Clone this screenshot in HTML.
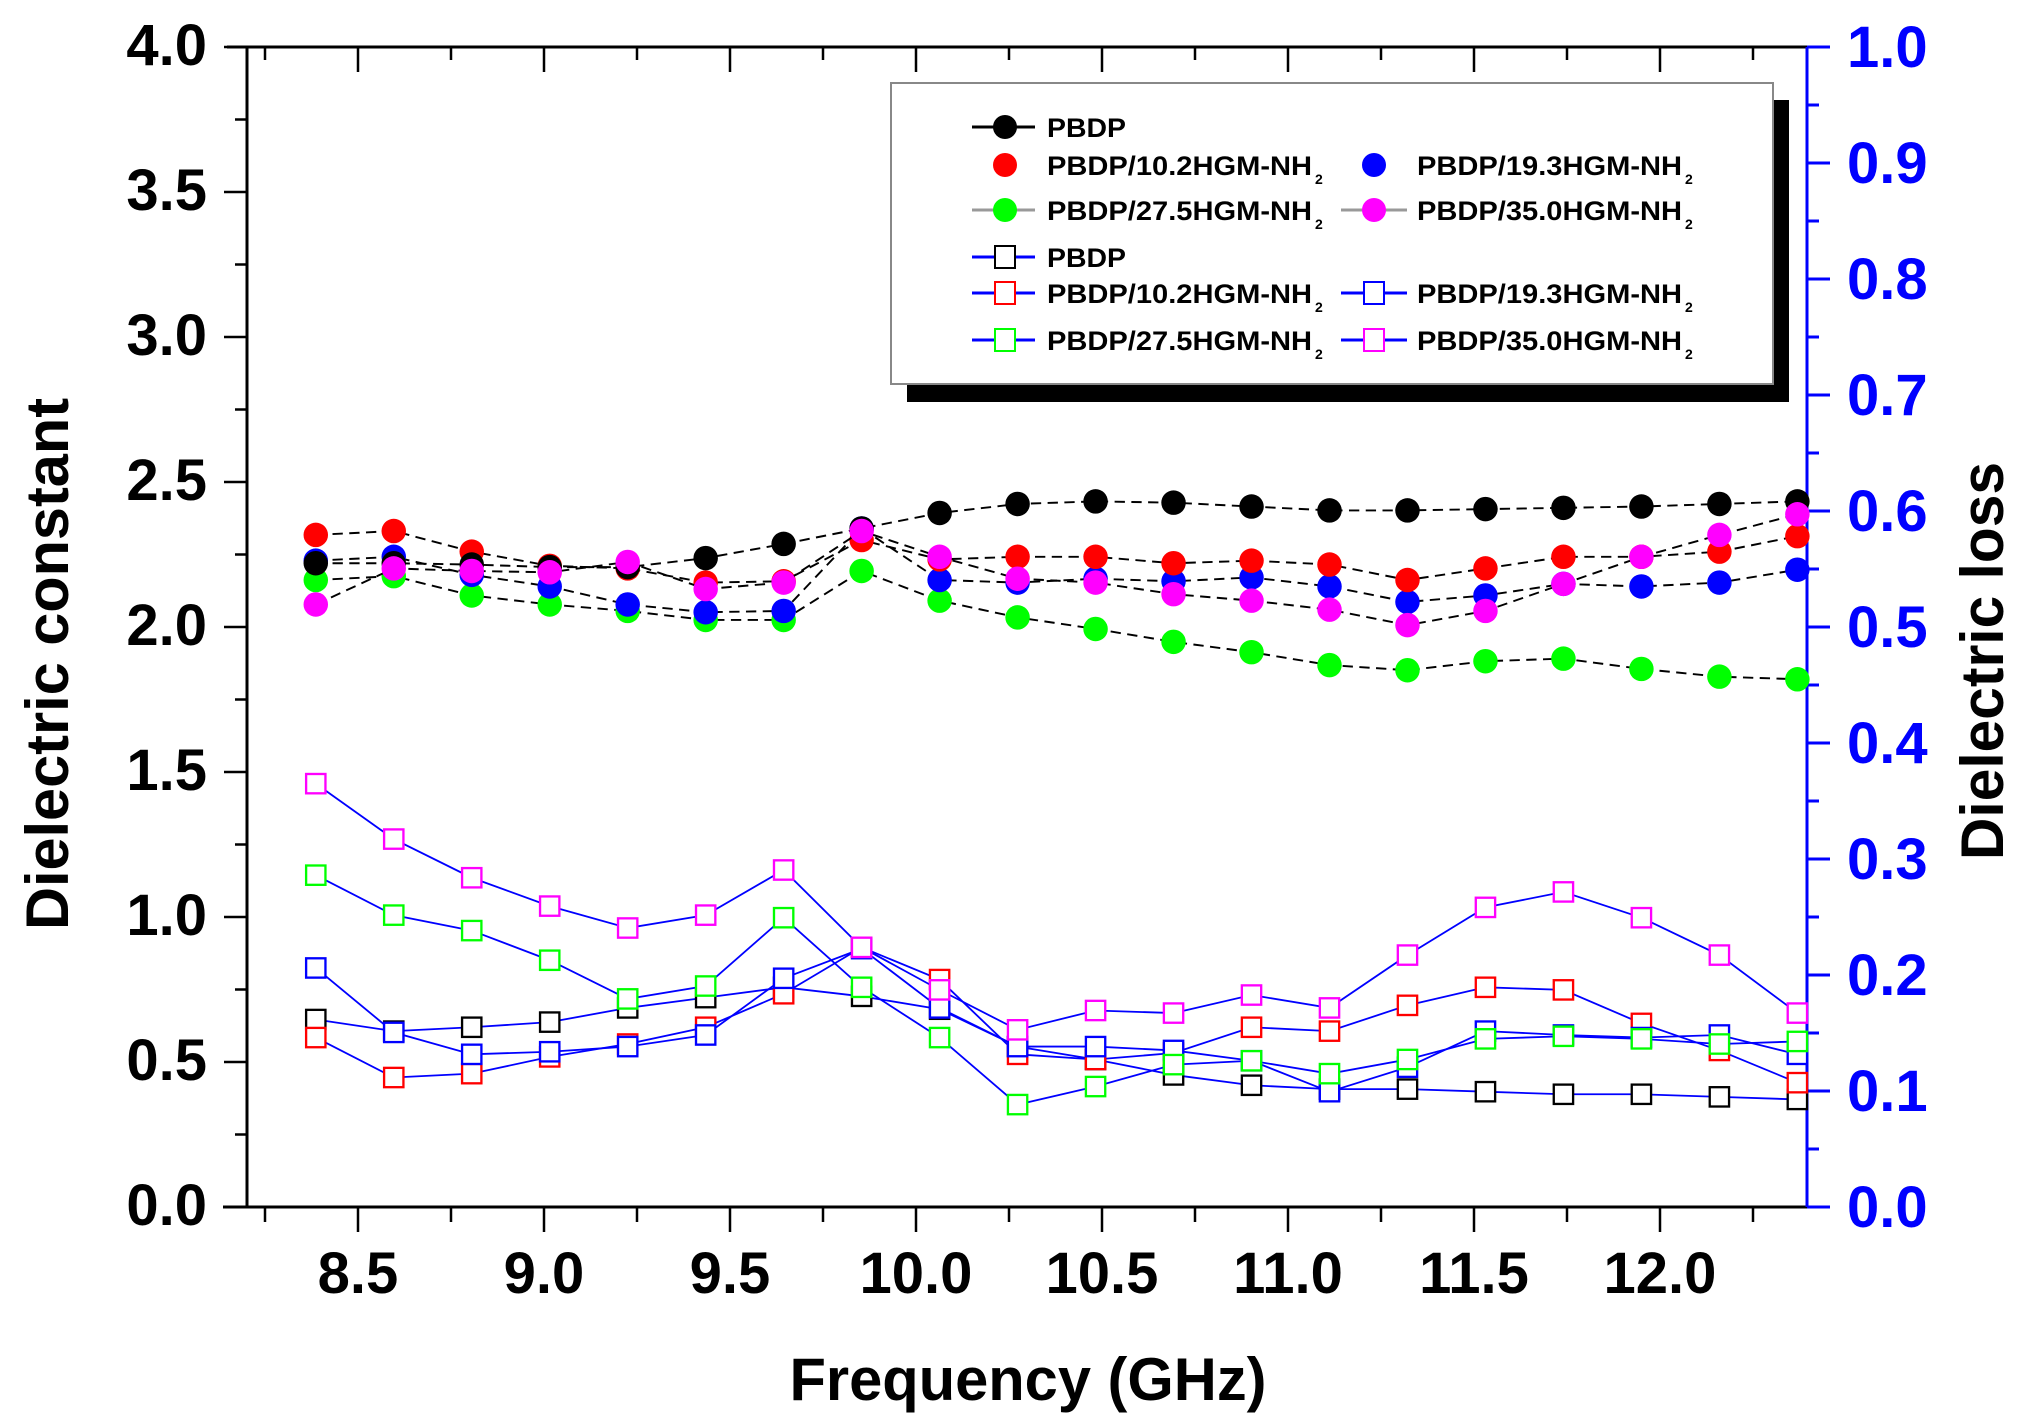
<!DOCTYPE html>
<html><head><meta charset="utf-8"><style>
html,body{margin:0;padding:0;background:#fff;}
svg{display:block;}
text{font-family:"Liberation Sans",Arial,sans-serif;font-weight:bold;}
</style></head><body>
<svg width="2021" height="1427" viewBox="0 0 2021 1427" xmlns="http://www.w3.org/2000/svg">
<defs>
<marker id="cK" markerUnits="userSpaceOnUse" markerWidth="24" markerHeight="24" refX="12" refY="12"><circle cx="12" cy="12" r="9.5" fill="#000"/></marker>
<marker id="cR" markerUnits="userSpaceOnUse" markerWidth="24" markerHeight="24" refX="12" refY="12"><circle cx="12" cy="12" r="9.5" fill="#f00"/></marker>
<marker id="cB" markerUnits="userSpaceOnUse" markerWidth="24" markerHeight="24" refX="12" refY="12"><circle cx="12" cy="12" r="9.5" fill="#00f"/></marker>
<marker id="cG" markerUnits="userSpaceOnUse" markerWidth="24" markerHeight="24" refX="12" refY="12"><circle cx="12" cy="12" r="9.5" fill="#0f0"/></marker>
<marker id="cM" markerUnits="userSpaceOnUse" markerWidth="24" markerHeight="24" refX="12" refY="12"><circle cx="12" cy="12" r="9.5" fill="#f0f"/></marker>
<marker id="sK" markerUnits="userSpaceOnUse" markerWidth="22" markerHeight="22" refX="11" refY="11"><rect x="3.5" y="3.5" width="15" height="15" fill="#fff" stroke="#000" stroke-width="1.8"/></marker>
<marker id="sR" markerUnits="userSpaceOnUse" markerWidth="22" markerHeight="22" refX="11" refY="11"><rect x="3.5" y="3.5" width="15" height="15" fill="#fff" stroke="#f00" stroke-width="1.8"/></marker>
<marker id="sB" markerUnits="userSpaceOnUse" markerWidth="22" markerHeight="22" refX="11" refY="11"><rect x="3.5" y="3.5" width="15" height="15" fill="#fff" stroke="#00f" stroke-width="1.8"/></marker>
<marker id="sG" markerUnits="userSpaceOnUse" markerWidth="22" markerHeight="22" refX="11" refY="11"><rect x="3.5" y="3.5" width="15" height="15" fill="#fff" stroke="#0f0" stroke-width="1.8"/></marker>
<marker id="sM" markerUnits="userSpaceOnUse" markerWidth="22" markerHeight="22" refX="11" refY="11"><rect x="3.5" y="3.5" width="15" height="15" fill="#fff" stroke="#f0f" stroke-width="1.8"/></marker>
</defs>

<!-- axes -->
<g stroke="#000" stroke-width="3" fill="none">
<line x1="223" y1="1207" x2="1807" y2="1207"/>
<line x1="247" y1="47" x2="247" y2="1207"/>
<line x1="227" y1="47" x2="1807" y2="47"/>
</g>
<g stroke="#000" stroke-width="2.5">
<!-- left major ticks -->
<line x1="224" y1="1207" x2="247" y2="1207"/><line x1="224" y1="1062" x2="247" y2="1062"/><line x1="224" y1="917" x2="247" y2="917"/><line x1="224" y1="772" x2="247" y2="772"/><line x1="224" y1="627" x2="247" y2="627"/><line x1="224" y1="482" x2="247" y2="482"/><line x1="224" y1="337" x2="247" y2="337"/><line x1="224" y1="192" x2="247" y2="192"/><line x1="224" y1="47" x2="247" y2="47"/>
<!-- left minor -->
<line x1="235" y1="1134.5" x2="247" y2="1134.5"/><line x1="235" y1="989.5" x2="247" y2="989.5"/><line x1="235" y1="844.5" x2="247" y2="844.5"/><line x1="235" y1="699.5" x2="247" y2="699.5"/><line x1="235" y1="554.5" x2="247" y2="554.5"/><line x1="235" y1="409.5" x2="247" y2="409.5"/><line x1="235" y1="264.5" x2="247" y2="264.5"/><line x1="235" y1="119.5" x2="247" y2="119.5"/>
<!-- bottom major -->
<line x1="358" y1="1207" x2="358" y2="1232"/><line x1="544" y1="1207" x2="544" y2="1232"/><line x1="730" y1="1207" x2="730" y2="1232"/><line x1="916" y1="1207" x2="916" y2="1232"/><line x1="1102" y1="1207" x2="1102" y2="1232"/><line x1="1288" y1="1207" x2="1288" y2="1232"/><line x1="1474" y1="1207" x2="1474" y2="1232"/><line x1="1660" y1="1207" x2="1660" y2="1232"/>
<!-- bottom minor -->
<line x1="265" y1="1207" x2="265" y2="1222"/><line x1="451" y1="1207" x2="451" y2="1222"/><line x1="637" y1="1207" x2="637" y2="1222"/><line x1="823" y1="1207" x2="823" y2="1222"/><line x1="1009" y1="1207" x2="1009" y2="1222"/><line x1="1195" y1="1207" x2="1195" y2="1222"/><line x1="1381" y1="1207" x2="1381" y2="1222"/><line x1="1567" y1="1207" x2="1567" y2="1222"/><line x1="1753" y1="1207" x2="1753" y2="1222"/>
<!-- top major (inward) -->
<line x1="358" y1="47" x2="358" y2="72"/><line x1="544" y1="47" x2="544" y2="72"/><line x1="730" y1="47" x2="730" y2="72"/><line x1="916" y1="47" x2="916" y2="72"/><line x1="1102" y1="47" x2="1102" y2="72"/><line x1="1288" y1="47" x2="1288" y2="72"/><line x1="1474" y1="47" x2="1474" y2="72"/><line x1="1660" y1="47" x2="1660" y2="72"/>
<line x1="265" y1="47" x2="265" y2="60"/><line x1="451" y1="47" x2="451" y2="60"/><line x1="637" y1="47" x2="637" y2="60"/><line x1="823" y1="47" x2="823" y2="60"/><line x1="1009" y1="47" x2="1009" y2="60"/><line x1="1195" y1="47" x2="1195" y2="60"/><line x1="1381" y1="47" x2="1381" y2="60"/><line x1="1567" y1="47" x2="1567" y2="60"/><line x1="1753" y1="47" x2="1753" y2="60"/>
</g>
<!-- right axis blue -->
<g stroke="#00f" stroke-width="3">
<line x1="1807" y1="47" x2="1807" y2="1207"/>
<line x1="1807" y1="47" x2="1830" y2="47"/><line x1="1807" y1="163" x2="1830" y2="163"/><line x1="1807" y1="279" x2="1830" y2="279"/><line x1="1807" y1="395" x2="1830" y2="395"/><line x1="1807" y1="511" x2="1830" y2="511"/><line x1="1807" y1="627" x2="1830" y2="627"/><line x1="1807" y1="743" x2="1830" y2="743"/><line x1="1807" y1="859" x2="1830" y2="859"/><line x1="1807" y1="975" x2="1830" y2="975"/><line x1="1807" y1="1091" x2="1830" y2="1091"/><line x1="1807" y1="1207" x2="1830" y2="1207"/>
<line x1="1807" y1="105" x2="1819" y2="105"/><line x1="1807" y1="221" x2="1819" y2="221"/><line x1="1807" y1="337" x2="1819" y2="337"/><line x1="1807" y1="453" x2="1819" y2="453"/><line x1="1807" y1="569" x2="1819" y2="569"/><line x1="1807" y1="685" x2="1819" y2="685"/><line x1="1807" y1="801" x2="1819" y2="801"/><line x1="1807" y1="917" x2="1819" y2="917"/><line x1="1807" y1="1033" x2="1819" y2="1033"/><line x1="1807" y1="1149" x2="1819" y2="1149"/>
</g>

<!-- tick labels -->
<g font-size="58" text-anchor="end" fill="#000">
<text x="207" y="1225">0.0</text><text x="207" y="1080">0.5</text><text x="207" y="935">1.0</text><text x="207" y="790">1.5</text><text x="207" y="645">2.0</text><text x="207" y="500">2.5</text><text x="207" y="355">3.0</text><text x="207" y="210">3.5</text><text x="207" y="65">4.0</text>
</g>
<g font-size="58" text-anchor="middle" fill="#000">
<text x="358" y="1293">8.5</text><text x="544" y="1293">9.0</text><text x="730" y="1293">9.5</text><text x="916" y="1293">10.0</text><text x="1102" y="1293">10.5</text><text x="1288" y="1293">11.0</text><text x="1474" y="1293">11.5</text><text x="1660" y="1293">12.0</text>
</g>
<g font-size="58" fill="#00f">
<text x="1847" y="67">1.0</text><text x="1847" y="183">0.9</text><text x="1847" y="299">0.8</text><text x="1847" y="415">0.7</text><text x="1847" y="531">0.6</text><text x="1847" y="647">0.5</text><text x="1847" y="763">0.4</text><text x="1847" y="879">0.3</text><text x="1847" y="995">0.2</text><text x="1847" y="1111">0.1</text><text x="1847" y="1227">0.0</text>
</g>
<text x="1028" y="1400" font-size="60" text-anchor="middle" textLength="477" lengthAdjust="spacingAndGlyphs">Frequency (GHz)</text>
<text transform="translate(68,664) rotate(-90)" font-size="60" text-anchor="middle" textLength="532" lengthAdjust="spacingAndGlyphs">Dielectric constant</text>
<text transform="translate(2003,661) rotate(-90)" font-size="60" text-anchor="middle" textLength="398" lengthAdjust="spacingAndGlyphs">Dielectric loss</text>

<!-- data (display coords scaled) -->
<g transform="scale(1.2889)" fill="none">
<g stroke="#00f" stroke-width="1.4">
<polyline marker-start="url(#sK)" marker-mid="url(#sK)" marker-end="url(#sK)" points="245,791 305.5,800 366,797 426.5,793 487,782 547.5,774 608,766 668.5,773 729,783 789.5,812 850,822 910.5,834 971,842 1031.5,845 1092,845 1152.5,847 1213,849 1273.5,849 1334,851 1394.5,853"/>
<polyline marker-start="url(#sR)" marker-mid="url(#sR)" marker-end="url(#sR)" points="245,805 305.5,836 366,833 426.5,820 487,810 547.5,797 608,771 668.5,735 729,760 789.5,818 850,822 910.5,817 971,797 1031.5,800 1092,780 1152.5,766 1213,768 1273.5,794 1334,815 1394.5,840"/>
<polyline marker-start="url(#sB)" marker-mid="url(#sB)" marker-end="url(#sB)" points="245,751 305.5,801 366,818 426.5,816 487,812 547.5,803 608,759 668.5,736 729,782 789.5,812 850,812 910.5,815 971,823 1031.5,847 1092,828 1152.5,800 1213,803 1273.5,805 1334,803 1394.5,818"/>
<polyline marker-start="url(#sG)" marker-mid="url(#sG)" marker-end="url(#sG)" points="245,679 305.5,710 366,722 426.5,745 487,775 547.5,765 608,712 668.5,766 729,805 789.5,857 850,843 910.5,826 971,823 1031.5,833 1092,822 1152.5,806 1213,804 1273.5,806 1334,810 1394.5,808"/>
<polyline marker-start="url(#sM)" marker-mid="url(#sM)" marker-end="url(#sM)" points="245,608 305.5,651 366,681 426.5,703 487,720 547.5,710 608,675 668.5,735 729,768 789.5,799 850,784 910.5,786 971,772 1031.5,782 1092,741 1152.5,704 1213,692 1273.5,712 1334,741 1394.5,786"/>
</g>
<g stroke="#000" stroke-width="1.5" stroke-dasharray="8,5">
<polyline marker-start="url(#cG)" marker-mid="url(#cG)" marker-end="url(#cG)" points="245,450 305.5,447 366,462 426.5,469 487,474 547.5,481 608,481 668.5,443 729,466 789.5,479 850,488 910.5,498 971,506 1031.5,516 1092,520 1152.5,513 1213,511 1273.5,519 1334,525 1394.5,527"/>
<polyline marker-start="url(#cB)" marker-mid="url(#cB)" marker-end="url(#cB)" points="245,435 305.5,432 366,446 426.5,455 487,469 547.5,475 608,474 668.5,410 729,450 789.5,452 850,449 910.5,451 971,448 1031.5,455 1092,467 1152.5,462 1213,453 1273.5,455 1334,452 1394.5,442"/>
<polyline marker-start="url(#cR)" marker-mid="url(#cR)" marker-end="url(#cR)" points="245,415 305.5,412 366,428 426.5,439 487,441 547.5,452 608,451 668.5,419 729,434 789.5,432 850,432 910.5,437 971,435 1031.5,438 1092,450 1152.5,441 1213,432 1273.5,432 1334,428 1394.5,416"/>
<polyline marker-start="url(#cK)" marker-mid="url(#cK)" marker-end="url(#cK)" points="245,437 305.5,437 366,438 426.5,440 487,440 547.5,433 608,422 668.5,410 729,398 789.5,391 850,389 910.5,390 971,393 1031.5,396 1092,396 1152.5,395 1213,394 1273.5,393 1334,391 1394.5,389"/>
<polyline marker-start="url(#cM)" marker-mid="url(#cM)" marker-end="url(#cM)" points="245,469 305.5,441 366,443 426.5,444 487,436 547.5,457 608,452 668.5,412 729,432 789.5,449 850,452 910.5,461 971,466 1031.5,473 1092,485 1152.5,474 1213,453 1273.5,432 1334,415 1394.5,399"/>
</g>
</g>

<!-- legend -->
<rect x="907" y="100" width="882" height="302" fill="#000"/>
<rect x="891" y="83" width="882" height="301" fill="#fff" stroke="#888" stroke-width="2"/>
<g stroke-width="3">
<line x1="972" y1="127" x2="1035" y2="127" stroke="#000"/>
<line x1="972" y1="210" x2="1035" y2="210" stroke="#999"/>
<line x1="1341" y1="210" x2="1407" y2="210" stroke="#999"/>
<line x1="972" y1="257" x2="1035" y2="257" stroke="#00f"/>
<line x1="972" y1="293" x2="1035" y2="293" stroke="#00f"/>
<line x1="1341" y1="293" x2="1407" y2="293" stroke="#00f"/>
<line x1="972" y1="340" x2="1035" y2="340" stroke="#00f"/>
<line x1="1341" y1="340" x2="1407" y2="340" stroke="#00f"/>
</g>
<circle cx="1005" cy="127" r="12" fill="#000"/>
<circle cx="1005" cy="165" r="12" fill="#f00"/>
<circle cx="1374" cy="165" r="12" fill="#00f"/>
<circle cx="1005" cy="210" r="12" fill="#0f0"/>
<circle cx="1374" cy="210" r="12" fill="#f0f"/>
<g fill="#fff" stroke-width="2">
<rect x="995" y="246" width="20" height="22" stroke="#000"/>
<rect x="995" y="282" width="20" height="22" stroke="#f00"/>
<rect x="1364" y="282" width="20" height="22" stroke="#00f"/>
<rect x="995" y="329" width="20" height="22" stroke="#0f0"/>
<rect x="1364" y="329" width="20" height="22" stroke="#f0f"/>
</g>
<g font-size="27" fill="#000">
<text x="1047" y="137" textLength="79" lengthAdjust="spacingAndGlyphs">PBDP</text>
<text x="1047" y="175" textLength="265" lengthAdjust="spacingAndGlyphs">PBDP/10.2HGM-NH</text><text x="1315" y="184" font-size="14">2</text>
<text x="1417" y="175" textLength="265" lengthAdjust="spacingAndGlyphs">PBDP/19.3HGM-NH</text><text x="1685" y="184" font-size="14">2</text>
<text x="1047" y="220" textLength="265" lengthAdjust="spacingAndGlyphs">PBDP/27.5HGM-NH</text><text x="1315" y="229" font-size="14">2</text>
<text x="1417" y="220" textLength="265" lengthAdjust="spacingAndGlyphs">PBDP/35.0HGM-NH</text><text x="1685" y="229" font-size="14">2</text>
<text x="1047" y="267" textLength="79" lengthAdjust="spacingAndGlyphs">PBDP</text>
<text x="1047" y="303" textLength="265" lengthAdjust="spacingAndGlyphs">PBDP/10.2HGM-NH</text><text x="1315" y="312" font-size="14">2</text>
<text x="1417" y="303" textLength="265" lengthAdjust="spacingAndGlyphs">PBDP/19.3HGM-NH</text><text x="1685" y="312" font-size="14">2</text>
<text x="1047" y="350" textLength="265" lengthAdjust="spacingAndGlyphs">PBDP/27.5HGM-NH</text><text x="1315" y="359" font-size="14">2</text>
<text x="1417" y="350" textLength="265" lengthAdjust="spacingAndGlyphs">PBDP/35.0HGM-NH</text><text x="1685" y="359" font-size="14">2</text>
</g>
</svg>
</body></html>
